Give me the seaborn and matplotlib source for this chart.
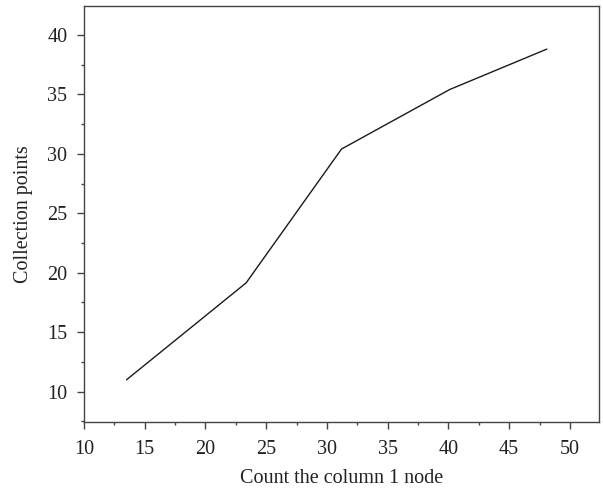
import matplotlib
matplotlib.use("Agg")
import matplotlib.pyplot as plt
import seaborn as sns
import pandas as pd
from matplotlib.ticker import MultipleLocator

nodes = [13.5, 23.35, 31.2, 40.1, 48.1]
points = [11.0, 19.15, 30.4, 35.4, 38.8]
x_label = "Count the column 1 node"
y_label = "Collection points"

sns.set_theme(style="ticks")
plt.rcParams['font.family'] = ['Liberation Serif', 'DejaVu Serif']

df = pd.DataFrame({"x": nodes, "y": points})

fig = plt.figure(figsize=(6.03, 4.91), dpi=100)
ax = fig.add_axes([0.1393, 0.1405, 0.8541, 0.8479])
sns.lineplot(data=df, x="x", y="y", ax=ax, color="#1a1a1a", linewidth=1.0)

ax.set_xlim(10, 52.4)
ax.set_ylim(7.45, 42.45)
ax.xaxis.set_major_locator(MultipleLocator(5))
ax.xaxis.set_minor_locator(MultipleLocator(2.5))
ax.yaxis.set_major_locator(MultipleLocator(5))
ax.yaxis.set_minor_locator(MultipleLocator(2.5))
ax.tick_params(which="major", direction="out", length=5, width=1, color="#444444",
               labelsize=14.5, labelcolor="#222222", pad=7)
ax.tick_params(axis="x", which="major", pad=8)
ax.tick_params(which="minor", direction="out", length=2.5, width=1, color="#444444")
for s in ax.spines.values():
    s.set_color("#444444")
    s.set_linewidth(1.0)
ax.set_xlabel(x_label, fontsize=14.5, color="#222222", labelpad=7)
ax.set_ylabel(y_label, fontsize=14.5, color="#222222", labelpad=10)

fig.savefig("out.png", dpi=100)
